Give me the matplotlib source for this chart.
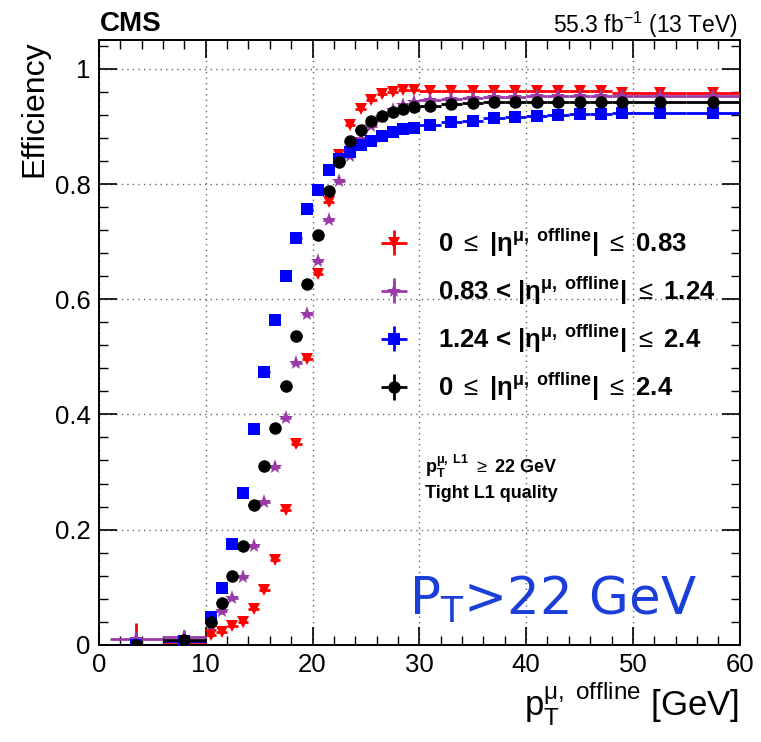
import numpy as np
import matplotlib
matplotlib.use("Agg")
import matplotlib.pyplot as plt
from matplotlib.ticker import MultipleLocator, FormatStrFormatter

plt.rcParams['font.family'] = ['Liberation Sans', 'DejaVu Sans']
plt.rcParams['mathtext.fontset'] = 'custom'
plt.rcParams['mathtext.rm'] = 'Liberation Sans'
plt.rcParams['mathtext.it'] = 'Liberation Sans:italic'
plt.rcParams['mathtext.bf'] = 'Liberation Sans:bold'

# bin edges in pT (GeV)
edges = [1, 6, 10, 11, 12, 13, 14, 15, 16, 17, 18, 19, 20, 21, 22, 23, 24, 25,
         26, 27, 28, 29, 30, 32, 34, 36, 38, 40, 42, 44, 46, 48, 50, 55, 60]

eff_red = [0.0, 0.005, 0.017, 0.023, 0.032, 0.039, 0.062, 0.095, 0.147, 0.234,
           0.348, 0.496, 0.644, 0.768, 0.851, 0.903, 0.930, 0.946, 0.956, 0.959,
           0.963, 0.963, 0.962, 0.962, 0.962, 0.962, 0.961, 0.961, 0.961, 0.961,
           0.961, 0.958, 0.958, 0.958]
eff_purple = [0.010, 0.013, 0.035, 0.058, 0.082, 0.118, 0.172, 0.248, 0.309, 0.393,
              0.489, 0.574, 0.667, 0.738, 0.806, 0.849, 0.878, 0.901, 0.917, 0.928,
              0.937, 0.942, 0.946, 0.948, 0.950, 0.951, 0.952, 0.953, 0.953, 0.953,
              0.953, 0.953, 0.953, 0.953]
eff_blue = [0.0, 0.007, 0.049, 0.099, 0.175, 0.264, 0.374, 0.474, 0.564, 0.640,
            0.706, 0.756, 0.789, 0.824, 0.844, 0.855, 0.867, 0.875, 0.884, 0.891,
            0.895, 0.898, 0.903, 0.907, 0.910, 0.914, 0.917, 0.919, 0.920, 0.921,
            0.922, 0.923, 0.923, 0.923]
eff_black = [0.0, 0.009, 0.039, 0.073, 0.120, 0.172, 0.243, 0.311, 0.376, 0.449,
             0.537, 0.627, 0.712, 0.788, 0.838, 0.874, 0.894, 0.909, 0.918, 0.925,
             0.930, 0.933, 0.936, 0.939, 0.941, 0.942, 0.942, 0.942, 0.942, 0.942,
             0.942, 0.942, 0.942, 0.942]

# vertical errors of the two low bins (down, up)
low_err_red = [[0.0, 0.004], [0.038, 0.006]]
low_err_purple = [[0.008, 0.010], [0.008, 0.013]]
low_err_blue = [[0.0, 0.006], [0.006, 0.008]]
low_err_black = [[0.0, 0.006], [0.004, 0.008]]

labels = [r'0 $\leq$ |η$^{\mathbf{μ,\ offline}}$| $\leq$ 0.83',
          r'0.83 < |η$^{\mathbf{μ,\ offline}}$| $\leq$ 1.24',
          r'1.24 < |η$^{\mathbf{μ,\ offline}}$| $\leq$ 2.4',
          r'0 $\leq$ |η$^{\mathbf{μ,\ offline}}$| $\leq$ 2.4']

edges = np.array(edges, dtype=float)
centers = 0.5 * (edges[1:] + edges[:-1])
halfw = 0.5 * (edges[1:] - edges[:-1])

fig = plt.figure(figsize=(7.61, 7.42), dpi=100)
ax = fig.add_axes([0.130, 0.131, 0.842, 0.815])

series = [
    (eff_red, low_err_red, '#ff0000', 'v', 9),
    (eff_purple, low_err_purple, '#9a3aa6', '*', 11),
    (eff_blue, low_err_blue, '#0000ff', 's', 8),
    (eff_black, low_err_black, '#000000', 'o', 9),
]

handles = []
for eff, lerr, col, mk, ms in series:
    h = ax.errorbar(centers, eff, xerr=halfw, yerr=0.004, fmt=mk, color=col,
                    ms=ms, mew=0, elinewidth=2, capsize=0, zorder=3)
    ax.errorbar(centers[:2], eff[:2], yerr=lerr, fmt='none', ecolor=col,
                elinewidth=2, capsize=0, zorder=3)
    handles.append(h)

ax.set_xlim(0, 60)
ax.set_ylim(0, 1.05)
ax.xaxis.set_major_locator(MultipleLocator(10))
ax.xaxis.set_minor_locator(MultipleLocator(2))
ax.yaxis.set_major_locator(MultipleLocator(0.2))
ax.yaxis.set_minor_locator(MultipleLocator(0.04))
ax.yaxis.set_major_formatter(FormatStrFormatter('%g'))
ax.tick_params(which='both', direction='in', top=True, right=True, labelsize=18.5)
ax.tick_params(which='major', length=13, width=1.2, pad=6)
ax.tick_params(which='minor', length=6.5, width=1.0)
ax.grid(True, which='major', linestyle=(0, (1, 3)), color='#666666', lw=1)
ax.set_axisbelow(True)
for s in ax.spines.values():
    s.set_linewidth(1.4)

ax.set_ylabel('Efficiency', fontsize=23, loc='top', labelpad=4)
ax.set_xlabel(r'p$_{\mathregular{T}}^{\mathregular{μ,\ offline}}$ [GeV]',
              fontsize=25, loc='right', labelpad=2)

leg = ax.legend(handles, labels, loc='upper left', bbox_to_anchor=(0.37, 0.73),
                frameon=False, prop={'weight': 'bold', 'size': 18.5},
                handlelength=2.7, labelspacing=0.62, handletextpad=0.35)

ax.text(30.5, 0.31, r'p$_{\mathbf{T}}^{\mathbf{μ,\ L1}}$ $\geq$ 22 GeV',
        fontsize=13, fontweight='bold', va='center')
ax.text(30.5, 0.262, 'Tight L1 quality', fontsize=13, fontweight='bold', va='center')

ax.text(29.0, 0.078, r'P$_{\mathregular{T}}$>22 GeV', fontsize=37, color='#1a3fd8',
        va='center', family='DejaVu Sans')

fig.text(0.131, 0.967, 'CMS', fontsize=20, fontweight='bold', va='center')
fig.text(0.970, 0.967, r'55.3 fb$^{\mathregular{-1}}$ (13 TeV)', fontsize=16.5,
         ha='right', va='center')

fig.savefig('out.png', dpi=100)
